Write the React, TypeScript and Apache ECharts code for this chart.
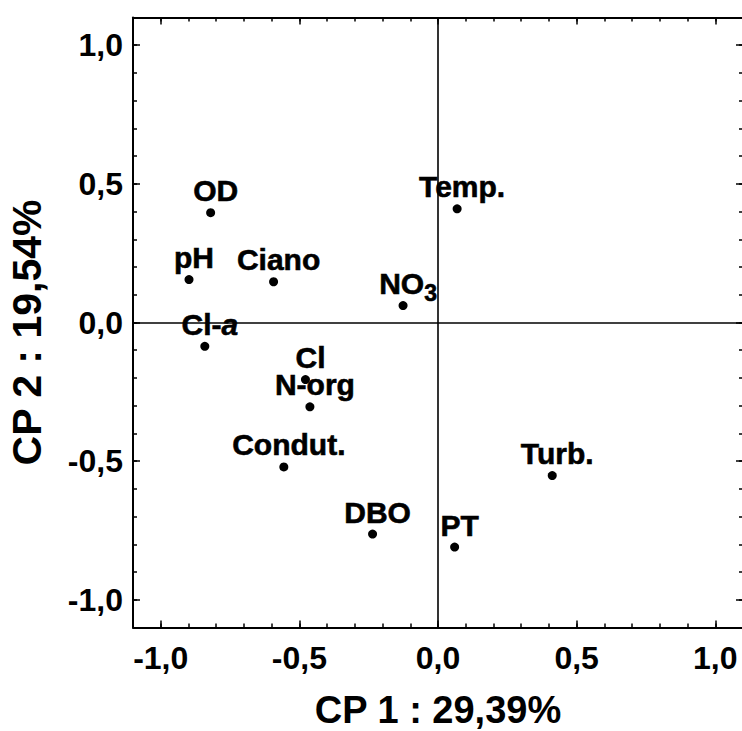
import React, { useEffect, useRef } from "react";
import * as echarts from "echarts";

const variables = ["OD", "pH", "Ciano", "NO3", "Cl-a", "Temp.", "Cl", "N-org", "Condut.", "DBO", "PT", "Turb."];
const cp1Values = [-0.82, -0.898, -0.593, -0.126, -0.841, 0.069, -0.478, -0.462, -0.556, -0.236, 0.06, 0.412];
const cp2Values = [0.396, 0.155, 0.147, 0.061, -0.086, 0.41, -0.206, -0.304, -0.521, -0.763, -0.81, -0.552];
const majorTicks = [-1.0, -0.5, 0.0, 0.5, 1.0];
const minorTicks = [-1.0, -0.9, -0.8, -0.7, -0.6, -0.5, -0.4, -0.3, -0.2, -0.1, 0.0, 0.1, 0.2, 0.3, 0.4, 0.5, 0.6, 0.7, 0.8, 0.9, 1.0];
const xTitle = "CP 1 : 29,39%";
const yTitle = "CP 2 : 19,54%";

const FONT = '"Liberation Sans", Arial, Helvetica, sans-serif';
const fmt = (v: number) => v.toFixed(1).replace(".", ",");

function makeAxes(dim: "x" | "y") {
  const isX = dim === "x";
  const base = {
    type: "value",
    min: -1.1,
    max: 1.1,
    splitLine: { show: false },
  };
  const posA = isX ? "bottom" : "left";
  const posB = isX ? "top" : "right";
  const main = {
    ...base,
    position: posA,
    axisLine: { show: true, onZero: false, lineStyle: { color: "#000", width: 2 } },
    axisTick: { show: true, inside: true, length: 7, customValues: majorTicks, lineStyle: { color: "#000", width: 1.5 } },
    axisLabel: {
      show: true,
      customValues: majorTicks,
      formatter: (v: number) => fmt(v),
      fontSize: 32,
      fontWeight: "bold",
      fontFamily: FONT,
      color: "#000",
      margin: isX ? 14 : 10,
    },
    name: isX ? xTitle : yTitle,
    nameLocation: "middle",
    nameGap: isX ? 65 : 86,
    nameTextStyle: isX
      ? { fontSize: 38, lineHeight: 34, fontWeight: "bold", fontFamily: FONT, color: "#000" }
      : { fontSize: 41, lineHeight: 41, fontWeight: "bold", fontFamily: FONT, color: "#000", padding: [0, 20, 0, 0] },
  };
  const minorA = {
    ...base,
    position: posA,
    axisLine: { show: false, onZero: false },
    axisTick: { show: true, inside: true, length: 4, customValues: minorTicks, lineStyle: { color: "#000", width: 1.5 } },
    axisLabel: { show: false },
  };
  const frameB = {
    ...base,
    position: posB,
    axisLine: { show: true, onZero: false, lineStyle: { color: "#000", width: 2 } },
    axisTick: { show: true, inside: true, length: 7, customValues: majorTicks, lineStyle: { color: "#000", width: 1.5 } },
    axisLabel: { show: false },
  };
  const minorB = {
    ...base,
    position: posB,
    axisLine: { show: false, onZero: false },
    axisTick: { show: true, inside: true, length: 4, customValues: minorTicks, lineStyle: { color: "#000", width: 1.5 } },
    axisLabel: { show: false },
  };
  return [main, minorA, frameB, minorB];
}

const tok = {
  fontWeight: "bold",
  fontFamily: FONT,
  color: "#000",
  opacity: 1,
  textBorderWidth: 0.6,
  textBorderColor: "#000",
};

export default function App() {
  const ref = useRef<HTMLDivElement>(null);
  useEffect(() => {
    document.body.style.margin = "0";
    if (!ref.current) return;
    const chart = echarts.init(ref.current, undefined, { renderer: "svg" });
    const data = variables.map((name, i) => ({ name, value: [cp1Values[i], cp2Values[i]] }));
    chart.setOption({
      animation: false,
      backgroundColor: "#fff",
      grid: { left: 133, top: 17.5, width: 610, height: 610, containLabel: false, outerBoundsMode: "none" },
      xAxis: makeAxes("x"),
      yAxis: makeAxes("y"),
      series: [
        {
          type: "scatter",
          xAxisIndex: 0,
          yAxisIndex: 0,
          symbol: "circle",
          symbolSize: 9,
          itemStyle: { color: "#000", opacity: 1 },
          data,
          label: {
            show: true,
            position: "top",
            distance: 2.5,
            offset: [5, 0],
            color: "#000",
            opacity: 1,
            fontSize: 30,
            lineHeight: 30,
            fontWeight: "bold",
            fontFamily: FONT,
            textBorderWidth: 0.6,
            textBorderColor: "#000",
            formatter: (p: any) => {
              if (p.name === "NO3") return "{n|NO}{s|3}";
              if (p.name === "Cl-a") return "{n|Cl-}{i|a}";
              return p.name;
            },
            rich: {
              n: { ...tok, fontSize: 30, lineHeight: 30 },
              i: { ...tok, fontSize: 30, lineHeight: 30, fontStyle: "italic" },
              s: { ...tok, fontSize: 23, lineHeight: 23, padding: [18, 0, 0, 0] },
            },
          },
          markLine: {
            silent: true,
            symbol: ["none", "none"],
            label: { show: false },
            lineStyle: { color: "#000", width: 1.6, type: "solid" },
            data: [{ xAxis: 0 }, { yAxis: 0 }],
          },
        },
      ],
    });
    return () => chart.dispose();
  }, []);
  return <div ref={ref} style={{ width: 742, height: 731 }} />;
}
